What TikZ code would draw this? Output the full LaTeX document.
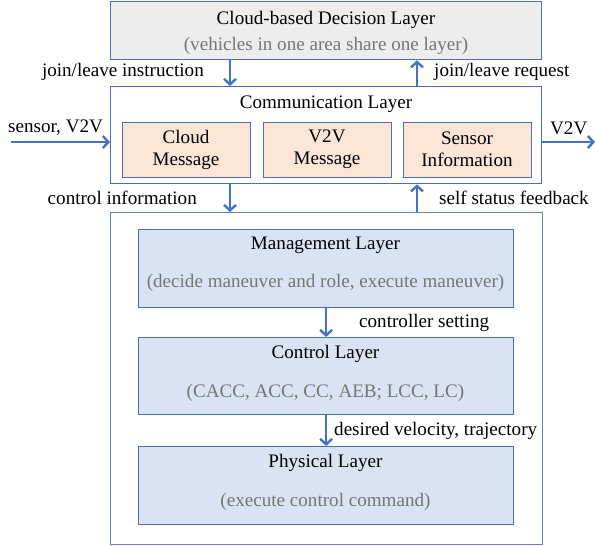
\documentclass[tikz,border=0pt]{standalone}
\usepackage{fontspec}
\setmainfont{Liberation Serif}
\usetikzlibrary{arrows.meta}
\definecolor{bord}{HTML}{4E6FAE}
\definecolor{outerbord}{HTML}{6A82B0}
\definecolor{arr}{HTML}{4472C4}
\definecolor{cloudfill}{HTML}{EDEDED}
\definecolor{msgfill}{HTML}{FBE5D6}
\definecolor{layfill}{HTML}{DAE3F3}
\definecolor{subtxt}{HTML}{767676}
\begin{document}
\begin{tikzpicture}[x=1pt,y=-1pt,
  every node/.style={font=\fontsize{19.1}{22}\selectfont, inner sep=0pt},
  box/.style={draw=bord, line width=1.3pt, anchor=north west},
  flow/.style={draw=arr, line width=2.4pt, -{Straight Barb[length=5.5pt,width=12pt,line width=2.4pt]}},
  sub/.style={text=subtxt}]
\useasboundingbox (0,0) rectangle (595,546);
% Cloud layer
\node[box, fill=cloudfill, minimum width=431pt, minimum height=58pt] (cloud) at (110,1) {};
\node (cloudT) at (326,20) {Cloud-based Decision Layer};
\node[sub] (cloudS) at (326,46) {(vehicles in one area share one layer)};
% Communication layer
\node[box, fill=white, minimum width=431pt, minimum height=97pt] (comm) at (110,86) {};
\node (commT) at (326,104) {Communication Layer};
\node[box, fill=msgfill, minimum width=128pt, minimum height=55pt] (cm) at (122,122) {};
\node[align=center] (cmT) at (186,149.5) {Cloud\\Message};
\node[box, fill=msgfill, minimum width=128pt, minimum height=55pt] (vm) at (263,122) {};
\node[align=center] (vmT) at (327,149.5) {V2V\\Message};
\node[box, fill=msgfill, minimum width=128pt, minimum height=55pt] (si) at (403,122) {};
\node[align=center] (siT) at (467,149.5) {Sensor\\Information};
% Outer vehicle box
\node[draw=outerbord, line width=1.3pt, anchor=north west, minimum width=432pt, minimum height=332pt] (veh) at (110,212) {};
% Management
\node[box, fill=layfill, minimum width=375pt, minimum height=78pt] (mg) at (138,229) {};
\node (mgT) at (325.5,245) {Management Layer};
\node[sub] (mgS) at (325.5,283) {(decide maneuver and role, execute maneuver)};
% Control
\node[box, fill=layfill, minimum width=375pt, minimum height=77pt] (ct) at (138,337) {};
\node (ctT) at (325.5,354) {Control Layer};
\node[sub] (ctS) at (325.5,393) {(CACC, ACC, CC, AEB; LCC, LC)};
% Physical
\node[box, fill=layfill, minimum width=375pt, minimum height=78pt] (ph) at (138,446) {};
\node (phT) at (325.5,463) {Physical Layer};
\node[sub] (phS) at (325.5,502) {(execute control command)};
% arrows between cloud and comm
\draw[flow] (cloud.south -| 230,0) -- (comm.north -| 230,0);
\draw[flow] (comm.north -| 417,0) -- (cloud.south -| 417,0);
\node[anchor=east] (jli) at (204,72) {join/leave instruction};
\node[anchor=west] (jlr) at (434,72) {join/leave request};
% arrows between comm and vehicle
\draw[flow] (comm.south -| 230,0) -- (veh.north -| 230,0);
\draw[flow] (veh.north -| 417,0) -- (comm.south -| 417,0);
\node[anchor=east] (ci) at (197,198) {control information};
\node[anchor=west] (ssf) at (439,198) {self status feedback};
% side arrows
\coordinate (inL) at (11,142);
\coordinate (outR) at (595,142);
\draw[flow] (inL) -- (comm.west |- inL);
\draw[flow] (comm.east |- outR) -- (outR);
\node[anchor=west] (sv) at (8,128) {sensor, V2V};
\node[anchor=west] (v2v) at (550,128) {V2V};
% internal arrows
\draw[flow] (mg.south) -- (ct.north);
\draw[flow] (ct.south) -- (ph.north);
\node[anchor=west] (cs) at (359,323) {controller setting};
\node[anchor=west] (dvt) at (334,431) {desired velocity, trajectory};
\end{tikzpicture}
\end{document}
